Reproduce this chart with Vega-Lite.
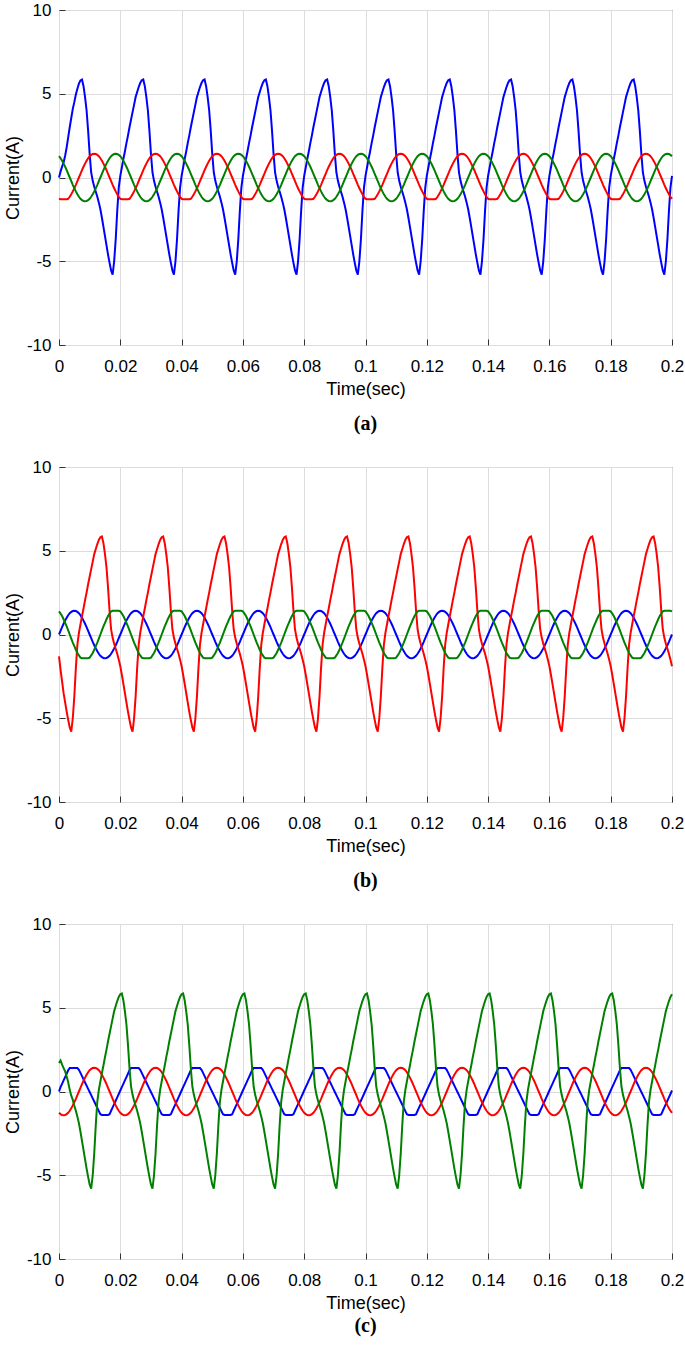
{
"$schema": "https://vega.github.io/schema/vega-lite/v6.json",
"padding": {"left": 3, "top": 0, "right": 12, "bottom": 5},
"spacing": 122,
"bounds": "flush",
"config": {
  "font": "Liberation Sans",
  "view": {"stroke": "#333333", "strokeWidth": 1},
  "axis": {"grid": true, "gridColor": "#dcdcdc", "gridWidth": 1, "domain": false, "tickColor": "#333333", "tickSize": -6, "labelPadding": 14, "labelFont": "Liberation Sans", "labelFontSize": 17, "labelColor": "#000000", "labelFlush": false, "labelOverlap": false, "titleFont": "Liberation Sans", "titleFontSize": 18, "titleFontWeight": "normal", "titleColor": "#000000"},
  "axisX": {"labelPadding": 19, "titlePadding": 6}
},
"data": {"values": [
{"t":0,"ab":0,"ar":-1.27,"ag":1.27,"bb":0,"br":-1.3,"bg":1.38,"cb":0,"cr":-1.27,"cg":1.7},
{"t":0.0005,"ab":0.35,"ar":-1.3,"ag":1.15,"bb":0.22,"br":-2.1,"bg":1.25,"cb":0.26,"cr":-1.35,"cg":1.85},
{"t":0.001,"ab":0.65,"ar":-1.3,"ag":1,"bb":0.44,"br":-2.8,"bg":1.1,"cb":0.46,"cr":-1.4,"cg":1.6},
{"t":0.0015,"ab":0.9,"ar":-1.3,"ag":0.83,"bb":0.64,"br":-3.5,"bg":0.91,"cb":0.66,"cr":-1.42,"cg":1.4},
{"t":0.002,"ab":1.3,"ar":-1.3,"ag":0.64,"bb":0.83,"br":-4.05,"bg":0.7,"cb":0.86,"cr":-1.4,"cg":1.2},
{"t":0.0025,"ab":1.8,"ar":-1.3,"ag":0.44,"bb":1,"br":-4.6,"bg":0.48,"cb":1.06,"cr":-1.35,"cg":0.9},
{"t":0.003,"ab":2.4,"ar":-1.27,"ag":0.22,"bb":1.15,"br":-5.1,"bg":0.24,"cb":1.27,"cr":-1.27,"cg":0.55},
{"t":0.0035,"ab":3,"ar":-1.15,"ag":0,"bb":1.27,"br":-5.55,"bg":0,"cb":1.4,"cr":-1.15,"cg":0.1},
{"t":0.004,"ab":3.55,"ar":-1,"ag":-0.22,"bb":1.35,"br":-5.8,"bg":-0.24,"cb":1.4,"cr":-1,"cg":-0.25},
{"t":0.0045,"ab":4.1,"ar":-0.83,"ag":-0.44,"bb":1.4,"br":-5,"bg":-0.48,"cb":1.4,"cr":-0.83,"cg":-0.5},
{"t":0.005,"ab":4.5,"ar":-0.64,"ag":-0.64,"bb":1.42,"br":-3.7,"bg":-0.7,"cb":1.4,"cr":-0.64,"cg":-0.85},
{"t":0.0055,"ab":4.95,"ar":-0.44,"ag":-0.83,"bb":1.4,"br":-2,"bg":-0.91,"cb":1.4,"cr":-0.44,"cg":-1.15},
{"t":0.006,"ab":5.3,"ar":-0.22,"ag":-1,"bb":1.35,"br":-0.6,"bg":-1.1,"cb":1.4,"cr":-0.22,"cg":-1.5},
{"t":0.0065,"ab":5.6,"ar":0,"ag":-1.15,"bb":1.27,"br":0.1,"bg":-1.25,"cb":1.29,"cr":0,"cg":-1.9},
{"t":0.007,"ab":5.8,"ar":0.22,"ag":-1.27,"bb":1.15,"br":0.6,"bg":-1.38,"cb":1.11,"cr":0.22,"cg":-2.4},
{"t":0.0075,"ab":5.85,"ar":0.44,"ag":-1.35,"bb":1,"br":1.1,"bg":-1.42,"cb":0.92,"cr":0.44,"cg":-2.95},
{"t":0.008,"ab":5.45,"ar":0.64,"ag":-1.4,"bb":0.83,"br":1.55,"bg":-1.42,"cb":0.73,"cr":0.64,"cg":-3.5},
{"t":0.0085,"ab":4.8,"ar":0.83,"ag":-1.42,"bb":0.64,"br":2.05,"bg":-1.42,"cb":0.54,"cr":0.83,"cg":-4.05},
{"t":0.009,"ab":4,"ar":1,"ag":-1.4,"bb":0.44,"br":2.5,"bg":-1.42,"cb":0.35,"cr":1,"cg":-4.6},
{"t":0.0095,"ab":2.8,"ar":1.15,"ag":-1.35,"bb":0.22,"br":3,"bg":-1.42,"cb":0.16,"cr":1.15,"cg":-5.1},
{"t":0.01,"ab":1.4,"ar":1.27,"ag":-1.27,"bb":0,"br":3.45,"bg":-1.38,"cb":-0.03,"cr":1.27,"cg":-5.55},
{"t":0.0105,"ab":0.3,"ar":1.35,"ag":-1.15,"bb":-0.22,"br":3.9,"bg":-1.25,"cb":-0.22,"cr":1.35,"cg":-5.8},
{"t":0.011,"ab":-0.2,"ar":1.4,"ag":-1,"bb":-0.44,"br":4.35,"bg":-1.1,"cb":-0.41,"cr":1.4,"cg":-5},
{"t":0.0115,"ab":-0.55,"ar":1.42,"ag":-0.83,"bb":-0.64,"br":4.8,"bg":-0.91,"cb":-0.6,"cr":1.42,"cg":-3.7},
{"t":0.012,"ab":-0.85,"ar":1.4,"ag":-0.64,"bb":-0.83,"br":5.1,"bg":-0.7,"cb":-0.79,"cr":1.4,"cg":-2},
{"t":0.0125,"ab":-1.15,"ar":1.35,"ag":-0.44,"bb":-1,"br":5.4,"bg":-0.48,"cb":-0.98,"cr":1.35,"cg":-0.6},
{"t":0.013,"ab":-1.5,"ar":1.27,"ag":-0.22,"bb":-1.15,"br":5.65,"bg":-0.24,"cb":-1.17,"cr":1.27,"cg":0.1},
{"t":0.0135,"ab":-1.9,"ar":1.15,"ag":0,"bb":-1.27,"br":5.8,"bg":0,"cb":-1.36,"cr":1.15,"cg":0.6},
{"t":0.014,"ab":-2.4,"ar":1,"ag":0.22,"bb":-1.35,"br":5.85,"bg":0.24,"cb":-1.4,"cr":1,"cg":1.1},
{"t":0.0145,"ab":-2.95,"ar":0.83,"ag":0.44,"bb":-1.4,"br":5.45,"bg":0.48,"cb":-1.4,"cr":0.83,"cg":1.55},
{"t":0.015,"ab":-3.5,"ar":0.64,"ag":0.64,"bb":-1.42,"br":4.8,"bg":0.7,"cb":-1.4,"cr":0.64,"cg":2.05},
{"t":0.0155,"ab":-4.05,"ar":0.44,"ag":0.83,"bb":-1.4,"br":4,"bg":0.91,"cb":-1.4,"cr":0.44,"cg":2.5},
{"t":0.016,"ab":-4.6,"ar":0.22,"ag":1,"bb":-1.35,"br":2.8,"bg":1.1,"cb":-1.4,"cr":0.22,"cg":3},
{"t":0.0165,"ab":-5.1,"ar":0,"ag":1.15,"bb":-1.27,"br":1.4,"bg":1.25,"cb":-1.36,"cr":0,"cg":3.45},
{"t":0.017,"ab":-5.55,"ar":-0.22,"ag":1.27,"bb":-1.15,"br":0.3,"bg":1.38,"cb":-1.15,"cr":-0.22,"cg":3.9},
{"t":0.0175,"ab":-5.8,"ar":-0.44,"ag":1.35,"bb":-1,"br":-0.2,"bg":1.42,"cb":-0.95,"cr":-0.44,"cg":4.35},
{"t":0.018,"ab":-5,"ar":-0.64,"ag":1.4,"bb":-0.83,"br":-0.55,"bg":1.42,"cb":-0.75,"cr":-0.64,"cg":4.8},
{"t":0.0185,"ab":-3.7,"ar":-0.83,"ag":1.42,"bb":-0.64,"br":-0.85,"bg":1.42,"cb":-0.55,"cr":-0.83,"cg":5.1},
{"t":0.019,"ab":-2,"ar":-1,"ag":1.4,"bb":-0.44,"br":-1.15,"bg":1.42,"cb":-0.35,"cr":-1,"cg":5.4},
{"t":0.0195,"ab":-0.6,"ar":-1.15,"ag":1.35,"bb":-0.22,"br":-1.5,"bg":1.42,"cb":-0.15,"cr":-1.15,"cg":5.65},
{"t":0.02,"ab":0.1,"ar":-1.27,"ag":1.27,"bb":0,"br":-1.9,"bg":1.38,"cb":0.06,"cr":-1.27,"cg":5.8},
{"t":0.0205,"ab":0.6,"ar":-1.3,"ag":1.15,"bb":0.22,"br":-2.4,"bg":1.25,"cb":0.26,"cr":-1.35,"cg":5.85},
{"t":0.021,"ab":1.1,"ar":-1.3,"ag":1,"bb":0.44,"br":-2.95,"bg":1.1,"cb":0.46,"cr":-1.4,"cg":5.45},
{"t":0.0215,"ab":1.55,"ar":-1.3,"ag":0.83,"bb":0.64,"br":-3.5,"bg":0.91,"cb":0.66,"cr":-1.42,"cg":4.8},
{"t":0.022,"ab":2.05,"ar":-1.3,"ag":0.64,"bb":0.83,"br":-4.05,"bg":0.7,"cb":0.86,"cr":-1.4,"cg":4},
{"t":0.0225,"ab":2.5,"ar":-1.3,"ag":0.44,"bb":1,"br":-4.6,"bg":0.48,"cb":1.06,"cr":-1.35,"cg":2.8},
{"t":0.023,"ab":3,"ar":-1.27,"ag":0.22,"bb":1.15,"br":-5.1,"bg":0.24,"cb":1.27,"cr":-1.27,"cg":1.4},
{"t":0.0235,"ab":3.45,"ar":-1.15,"ag":0,"bb":1.27,"br":-5.55,"bg":0,"cb":1.4,"cr":-1.15,"cg":0.3},
{"t":0.024,"ab":3.9,"ar":-1,"ag":-0.22,"bb":1.35,"br":-5.8,"bg":-0.24,"cb":1.4,"cr":-1,"cg":-0.2},
{"t":0.0245,"ab":4.35,"ar":-0.83,"ag":-0.44,"bb":1.4,"br":-5,"bg":-0.48,"cb":1.4,"cr":-0.83,"cg":-0.55},
{"t":0.025,"ab":4.8,"ar":-0.64,"ag":-0.64,"bb":1.42,"br":-3.7,"bg":-0.7,"cb":1.4,"cr":-0.64,"cg":-0.85},
{"t":0.0255,"ab":5.1,"ar":-0.44,"ag":-0.83,"bb":1.4,"br":-2,"bg":-0.91,"cb":1.4,"cr":-0.44,"cg":-1.15},
{"t":0.026,"ab":5.4,"ar":-0.22,"ag":-1,"bb":1.35,"br":-0.6,"bg":-1.1,"cb":1.4,"cr":-0.22,"cg":-1.5},
{"t":0.0265,"ab":5.65,"ar":0,"ag":-1.15,"bb":1.27,"br":0.1,"bg":-1.25,"cb":1.29,"cr":0,"cg":-1.9},
{"t":0.027,"ab":5.8,"ar":0.22,"ag":-1.27,"bb":1.15,"br":0.6,"bg":-1.38,"cb":1.11,"cr":0.22,"cg":-2.4},
{"t":0.0275,"ab":5.85,"ar":0.44,"ag":-1.35,"bb":1,"br":1.1,"bg":-1.42,"cb":0.92,"cr":0.44,"cg":-2.95},
{"t":0.028,"ab":5.45,"ar":0.64,"ag":-1.4,"bb":0.83,"br":1.55,"bg":-1.42,"cb":0.73,"cr":0.64,"cg":-3.5},
{"t":0.0285,"ab":4.8,"ar":0.83,"ag":-1.42,"bb":0.64,"br":2.05,"bg":-1.42,"cb":0.54,"cr":0.83,"cg":-4.05},
{"t":0.029,"ab":4,"ar":1,"ag":-1.4,"bb":0.44,"br":2.5,"bg":-1.42,"cb":0.35,"cr":1,"cg":-4.6},
{"t":0.0295,"ab":2.8,"ar":1.15,"ag":-1.35,"bb":0.22,"br":3,"bg":-1.42,"cb":0.16,"cr":1.15,"cg":-5.1},
{"t":0.03,"ab":1.4,"ar":1.27,"ag":-1.27,"bb":0,"br":3.45,"bg":-1.38,"cb":-0.03,"cr":1.27,"cg":-5.55},
{"t":0.0305,"ab":0.3,"ar":1.35,"ag":-1.15,"bb":-0.22,"br":3.9,"bg":-1.25,"cb":-0.22,"cr":1.35,"cg":-5.8},
{"t":0.031,"ab":-0.2,"ar":1.4,"ag":-1,"bb":-0.44,"br":4.35,"bg":-1.1,"cb":-0.41,"cr":1.4,"cg":-5},
{"t":0.0315,"ab":-0.55,"ar":1.42,"ag":-0.83,"bb":-0.64,"br":4.8,"bg":-0.91,"cb":-0.6,"cr":1.42,"cg":-3.7},
{"t":0.032,"ab":-0.85,"ar":1.4,"ag":-0.64,"bb":-0.83,"br":5.1,"bg":-0.7,"cb":-0.79,"cr":1.4,"cg":-2},
{"t":0.0325,"ab":-1.15,"ar":1.35,"ag":-0.44,"bb":-1,"br":5.4,"bg":-0.48,"cb":-0.98,"cr":1.35,"cg":-0.6},
{"t":0.033,"ab":-1.5,"ar":1.27,"ag":-0.22,"bb":-1.15,"br":5.65,"bg":-0.24,"cb":-1.17,"cr":1.27,"cg":0.1},
{"t":0.0335,"ab":-1.9,"ar":1.15,"ag":0,"bb":-1.27,"br":5.8,"bg":0,"cb":-1.36,"cr":1.15,"cg":0.6},
{"t":0.034,"ab":-2.4,"ar":1,"ag":0.22,"bb":-1.35,"br":5.85,"bg":0.24,"cb":-1.4,"cr":1,"cg":1.1},
{"t":0.0345,"ab":-2.95,"ar":0.83,"ag":0.44,"bb":-1.4,"br":5.45,"bg":0.48,"cb":-1.4,"cr":0.83,"cg":1.55},
{"t":0.035,"ab":-3.5,"ar":0.64,"ag":0.64,"bb":-1.42,"br":4.8,"bg":0.7,"cb":-1.4,"cr":0.64,"cg":2.05},
{"t":0.0355,"ab":-4.05,"ar":0.44,"ag":0.83,"bb":-1.4,"br":4,"bg":0.91,"cb":-1.4,"cr":0.44,"cg":2.5},
{"t":0.036,"ab":-4.6,"ar":0.22,"ag":1,"bb":-1.35,"br":2.8,"bg":1.1,"cb":-1.4,"cr":0.22,"cg":3},
{"t":0.0365,"ab":-5.1,"ar":0,"ag":1.15,"bb":-1.27,"br":1.4,"bg":1.25,"cb":-1.36,"cr":0,"cg":3.45},
{"t":0.037,"ab":-5.55,"ar":-0.22,"ag":1.27,"bb":-1.15,"br":0.3,"bg":1.38,"cb":-1.15,"cr":-0.22,"cg":3.9},
{"t":0.0375,"ab":-5.8,"ar":-0.44,"ag":1.35,"bb":-1,"br":-0.2,"bg":1.42,"cb":-0.95,"cr":-0.44,"cg":4.35},
{"t":0.038,"ab":-5,"ar":-0.64,"ag":1.4,"bb":-0.83,"br":-0.55,"bg":1.42,"cb":-0.75,"cr":-0.64,"cg":4.8},
{"t":0.0385,"ab":-3.7,"ar":-0.83,"ag":1.42,"bb":-0.64,"br":-0.85,"bg":1.42,"cb":-0.55,"cr":-0.83,"cg":5.1},
{"t":0.039,"ab":-2,"ar":-1,"ag":1.4,"bb":-0.44,"br":-1.15,"bg":1.42,"cb":-0.35,"cr":-1,"cg":5.4},
{"t":0.0395,"ab":-0.6,"ar":-1.15,"ag":1.35,"bb":-0.22,"br":-1.5,"bg":1.42,"cb":-0.15,"cr":-1.15,"cg":5.65},
{"t":0.04,"ab":0.1,"ar":-1.27,"ag":1.27,"bb":0,"br":-1.9,"bg":1.38,"cb":0.06,"cr":-1.27,"cg":5.8},
{"t":0.0405,"ab":0.6,"ar":-1.3,"ag":1.15,"bb":0.22,"br":-2.4,"bg":1.25,"cb":0.26,"cr":-1.35,"cg":5.85},
{"t":0.041,"ab":1.1,"ar":-1.3,"ag":1,"bb":0.44,"br":-2.95,"bg":1.1,"cb":0.46,"cr":-1.4,"cg":5.45},
{"t":0.0415,"ab":1.55,"ar":-1.3,"ag":0.83,"bb":0.64,"br":-3.5,"bg":0.91,"cb":0.66,"cr":-1.42,"cg":4.8},
{"t":0.042,"ab":2.05,"ar":-1.3,"ag":0.64,"bb":0.83,"br":-4.05,"bg":0.7,"cb":0.86,"cr":-1.4,"cg":4},
{"t":0.0425,"ab":2.5,"ar":-1.3,"ag":0.44,"bb":1,"br":-4.6,"bg":0.48,"cb":1.06,"cr":-1.35,"cg":2.8},
{"t":0.043,"ab":3,"ar":-1.27,"ag":0.22,"bb":1.15,"br":-5.1,"bg":0.24,"cb":1.27,"cr":-1.27,"cg":1.4},
{"t":0.0435,"ab":3.45,"ar":-1.15,"ag":0,"bb":1.27,"br":-5.55,"bg":0,"cb":1.4,"cr":-1.15,"cg":0.3},
{"t":0.044,"ab":3.9,"ar":-1,"ag":-0.22,"bb":1.35,"br":-5.8,"bg":-0.24,"cb":1.4,"cr":-1,"cg":-0.2},
{"t":0.0445,"ab":4.35,"ar":-0.83,"ag":-0.44,"bb":1.4,"br":-5,"bg":-0.48,"cb":1.4,"cr":-0.83,"cg":-0.55},
{"t":0.045,"ab":4.8,"ar":-0.64,"ag":-0.64,"bb":1.42,"br":-3.7,"bg":-0.7,"cb":1.4,"cr":-0.64,"cg":-0.85},
{"t":0.0455,"ab":5.1,"ar":-0.44,"ag":-0.83,"bb":1.4,"br":-2,"bg":-0.91,"cb":1.4,"cr":-0.44,"cg":-1.15},
{"t":0.046,"ab":5.4,"ar":-0.22,"ag":-1,"bb":1.35,"br":-0.6,"bg":-1.1,"cb":1.4,"cr":-0.22,"cg":-1.5},
{"t":0.0465,"ab":5.65,"ar":0,"ag":-1.15,"bb":1.27,"br":0.1,"bg":-1.25,"cb":1.29,"cr":0,"cg":-1.9},
{"t":0.047,"ab":5.8,"ar":0.22,"ag":-1.27,"bb":1.15,"br":0.6,"bg":-1.38,"cb":1.11,"cr":0.22,"cg":-2.4},
{"t":0.0475,"ab":5.85,"ar":0.44,"ag":-1.35,"bb":1,"br":1.1,"bg":-1.42,"cb":0.92,"cr":0.44,"cg":-2.95},
{"t":0.048,"ab":5.45,"ar":0.64,"ag":-1.4,"bb":0.83,"br":1.55,"bg":-1.42,"cb":0.73,"cr":0.64,"cg":-3.5},
{"t":0.0485,"ab":4.8,"ar":0.83,"ag":-1.42,"bb":0.64,"br":2.05,"bg":-1.42,"cb":0.54,"cr":0.83,"cg":-4.05},
{"t":0.049,"ab":4,"ar":1,"ag":-1.4,"bb":0.44,"br":2.5,"bg":-1.42,"cb":0.35,"cr":1,"cg":-4.6},
{"t":0.0495,"ab":2.8,"ar":1.15,"ag":-1.35,"bb":0.22,"br":3,"bg":-1.42,"cb":0.16,"cr":1.15,"cg":-5.1},
{"t":0.05,"ab":1.4,"ar":1.27,"ag":-1.27,"bb":0,"br":3.45,"bg":-1.38,"cb":-0.03,"cr":1.27,"cg":-5.55},
{"t":0.0505,"ab":0.3,"ar":1.35,"ag":-1.15,"bb":-0.22,"br":3.9,"bg":-1.25,"cb":-0.22,"cr":1.35,"cg":-5.8},
{"t":0.051,"ab":-0.2,"ar":1.4,"ag":-1,"bb":-0.44,"br":4.35,"bg":-1.1,"cb":-0.41,"cr":1.4,"cg":-5},
{"t":0.0515,"ab":-0.55,"ar":1.42,"ag":-0.83,"bb":-0.64,"br":4.8,"bg":-0.91,"cb":-0.6,"cr":1.42,"cg":-3.7},
{"t":0.052,"ab":-0.85,"ar":1.4,"ag":-0.64,"bb":-0.83,"br":5.1,"bg":-0.7,"cb":-0.79,"cr":1.4,"cg":-2},
{"t":0.0525,"ab":-1.15,"ar":1.35,"ag":-0.44,"bb":-1,"br":5.4,"bg":-0.48,"cb":-0.98,"cr":1.35,"cg":-0.6},
{"t":0.053,"ab":-1.5,"ar":1.27,"ag":-0.22,"bb":-1.15,"br":5.65,"bg":-0.24,"cb":-1.17,"cr":1.27,"cg":0.1},
{"t":0.0535,"ab":-1.9,"ar":1.15,"ag":0,"bb":-1.27,"br":5.8,"bg":0,"cb":-1.36,"cr":1.15,"cg":0.6},
{"t":0.054,"ab":-2.4,"ar":1,"ag":0.22,"bb":-1.35,"br":5.85,"bg":0.24,"cb":-1.4,"cr":1,"cg":1.1},
{"t":0.0545,"ab":-2.95,"ar":0.83,"ag":0.44,"bb":-1.4,"br":5.45,"bg":0.48,"cb":-1.4,"cr":0.83,"cg":1.55},
{"t":0.055,"ab":-3.5,"ar":0.64,"ag":0.64,"bb":-1.42,"br":4.8,"bg":0.7,"cb":-1.4,"cr":0.64,"cg":2.05},
{"t":0.0555,"ab":-4.05,"ar":0.44,"ag":0.83,"bb":-1.4,"br":4,"bg":0.91,"cb":-1.4,"cr":0.44,"cg":2.5},
{"t":0.056,"ab":-4.6,"ar":0.22,"ag":1,"bb":-1.35,"br":2.8,"bg":1.1,"cb":-1.4,"cr":0.22,"cg":3},
{"t":0.0565,"ab":-5.1,"ar":0,"ag":1.15,"bb":-1.27,"br":1.4,"bg":1.25,"cb":-1.36,"cr":0,"cg":3.45},
{"t":0.057,"ab":-5.55,"ar":-0.22,"ag":1.27,"bb":-1.15,"br":0.3,"bg":1.38,"cb":-1.15,"cr":-0.22,"cg":3.9},
{"t":0.0575,"ab":-5.8,"ar":-0.44,"ag":1.35,"bb":-1,"br":-0.2,"bg":1.42,"cb":-0.95,"cr":-0.44,"cg":4.35},
{"t":0.058,"ab":-5,"ar":-0.64,"ag":1.4,"bb":-0.83,"br":-0.55,"bg":1.42,"cb":-0.75,"cr":-0.64,"cg":4.8},
{"t":0.0585,"ab":-3.7,"ar":-0.83,"ag":1.42,"bb":-0.64,"br":-0.85,"bg":1.42,"cb":-0.55,"cr":-0.83,"cg":5.1},
{"t":0.059,"ab":-2,"ar":-1,"ag":1.4,"bb":-0.44,"br":-1.15,"bg":1.42,"cb":-0.35,"cr":-1,"cg":5.4},
{"t":0.0595,"ab":-0.6,"ar":-1.15,"ag":1.35,"bb":-0.22,"br":-1.5,"bg":1.42,"cb":-0.15,"cr":-1.15,"cg":5.65},
{"t":0.06,"ab":0.1,"ar":-1.27,"ag":1.27,"bb":0,"br":-1.9,"bg":1.38,"cb":0.06,"cr":-1.27,"cg":5.8},
{"t":0.0605,"ab":0.6,"ar":-1.3,"ag":1.15,"bb":0.22,"br":-2.4,"bg":1.25,"cb":0.26,"cr":-1.35,"cg":5.85},
{"t":0.061,"ab":1.1,"ar":-1.3,"ag":1,"bb":0.44,"br":-2.95,"bg":1.1,"cb":0.46,"cr":-1.4,"cg":5.45},
{"t":0.0615,"ab":1.55,"ar":-1.3,"ag":0.83,"bb":0.64,"br":-3.5,"bg":0.91,"cb":0.66,"cr":-1.42,"cg":4.8},
{"t":0.062,"ab":2.05,"ar":-1.3,"ag":0.64,"bb":0.83,"br":-4.05,"bg":0.7,"cb":0.86,"cr":-1.4,"cg":4},
{"t":0.0625,"ab":2.5,"ar":-1.3,"ag":0.44,"bb":1,"br":-4.6,"bg":0.48,"cb":1.06,"cr":-1.35,"cg":2.8},
{"t":0.063,"ab":3,"ar":-1.27,"ag":0.22,"bb":1.15,"br":-5.1,"bg":0.24,"cb":1.27,"cr":-1.27,"cg":1.4},
{"t":0.0635,"ab":3.45,"ar":-1.15,"ag":0,"bb":1.27,"br":-5.55,"bg":0,"cb":1.4,"cr":-1.15,"cg":0.3},
{"t":0.064,"ab":3.9,"ar":-1,"ag":-0.22,"bb":1.35,"br":-5.8,"bg":-0.24,"cb":1.4,"cr":-1,"cg":-0.2},
{"t":0.0645,"ab":4.35,"ar":-0.83,"ag":-0.44,"bb":1.4,"br":-5,"bg":-0.48,"cb":1.4,"cr":-0.83,"cg":-0.55},
{"t":0.065,"ab":4.8,"ar":-0.64,"ag":-0.64,"bb":1.42,"br":-3.7,"bg":-0.7,"cb":1.4,"cr":-0.64,"cg":-0.85},
{"t":0.0655,"ab":5.1,"ar":-0.44,"ag":-0.83,"bb":1.4,"br":-2,"bg":-0.91,"cb":1.4,"cr":-0.44,"cg":-1.15},
{"t":0.066,"ab":5.4,"ar":-0.22,"ag":-1,"bb":1.35,"br":-0.6,"bg":-1.1,"cb":1.4,"cr":-0.22,"cg":-1.5},
{"t":0.0665,"ab":5.65,"ar":0,"ag":-1.15,"bb":1.27,"br":0.1,"bg":-1.25,"cb":1.29,"cr":0,"cg":-1.9},
{"t":0.067,"ab":5.8,"ar":0.22,"ag":-1.27,"bb":1.15,"br":0.6,"bg":-1.38,"cb":1.11,"cr":0.22,"cg":-2.4},
{"t":0.0675,"ab":5.85,"ar":0.44,"ag":-1.35,"bb":1,"br":1.1,"bg":-1.42,"cb":0.92,"cr":0.44,"cg":-2.95},
{"t":0.068,"ab":5.45,"ar":0.64,"ag":-1.4,"bb":0.83,"br":1.55,"bg":-1.42,"cb":0.73,"cr":0.64,"cg":-3.5},
{"t":0.0685,"ab":4.8,"ar":0.83,"ag":-1.42,"bb":0.64,"br":2.05,"bg":-1.42,"cb":0.54,"cr":0.83,"cg":-4.05},
{"t":0.069,"ab":4,"ar":1,"ag":-1.4,"bb":0.44,"br":2.5,"bg":-1.42,"cb":0.35,"cr":1,"cg":-4.6},
{"t":0.0695,"ab":2.8,"ar":1.15,"ag":-1.35,"bb":0.22,"br":3,"bg":-1.42,"cb":0.16,"cr":1.15,"cg":-5.1},
{"t":0.07,"ab":1.4,"ar":1.27,"ag":-1.27,"bb":0,"br":3.45,"bg":-1.38,"cb":-0.03,"cr":1.27,"cg":-5.55},
{"t":0.0705,"ab":0.3,"ar":1.35,"ag":-1.15,"bb":-0.22,"br":3.9,"bg":-1.25,"cb":-0.22,"cr":1.35,"cg":-5.8},
{"t":0.071,"ab":-0.2,"ar":1.4,"ag":-1,"bb":-0.44,"br":4.35,"bg":-1.1,"cb":-0.41,"cr":1.4,"cg":-5},
{"t":0.0715,"ab":-0.55,"ar":1.42,"ag":-0.83,"bb":-0.64,"br":4.8,"bg":-0.91,"cb":-0.6,"cr":1.42,"cg":-3.7},
{"t":0.072,"ab":-0.85,"ar":1.4,"ag":-0.64,"bb":-0.83,"br":5.1,"bg":-0.7,"cb":-0.79,"cr":1.4,"cg":-2},
{"t":0.0725,"ab":-1.15,"ar":1.35,"ag":-0.44,"bb":-1,"br":5.4,"bg":-0.48,"cb":-0.98,"cr":1.35,"cg":-0.6},
{"t":0.073,"ab":-1.5,"ar":1.27,"ag":-0.22,"bb":-1.15,"br":5.65,"bg":-0.24,"cb":-1.17,"cr":1.27,"cg":0.1},
{"t":0.0735,"ab":-1.9,"ar":1.15,"ag":0,"bb":-1.27,"br":5.8,"bg":0,"cb":-1.36,"cr":1.15,"cg":0.6},
{"t":0.074,"ab":-2.4,"ar":1,"ag":0.22,"bb":-1.35,"br":5.85,"bg":0.24,"cb":-1.4,"cr":1,"cg":1.1},
{"t":0.0745,"ab":-2.95,"ar":0.83,"ag":0.44,"bb":-1.4,"br":5.45,"bg":0.48,"cb":-1.4,"cr":0.83,"cg":1.55},
{"t":0.075,"ab":-3.5,"ar":0.64,"ag":0.64,"bb":-1.42,"br":4.8,"bg":0.7,"cb":-1.4,"cr":0.64,"cg":2.05},
{"t":0.0755,"ab":-4.05,"ar":0.44,"ag":0.83,"bb":-1.4,"br":4,"bg":0.91,"cb":-1.4,"cr":0.44,"cg":2.5},
{"t":0.076,"ab":-4.6,"ar":0.22,"ag":1,"bb":-1.35,"br":2.8,"bg":1.1,"cb":-1.4,"cr":0.22,"cg":3},
{"t":0.0765,"ab":-5.1,"ar":0,"ag":1.15,"bb":-1.27,"br":1.4,"bg":1.25,"cb":-1.36,"cr":0,"cg":3.45},
{"t":0.077,"ab":-5.55,"ar":-0.22,"ag":1.27,"bb":-1.15,"br":0.3,"bg":1.38,"cb":-1.15,"cr":-0.22,"cg":3.9},
{"t":0.0775,"ab":-5.8,"ar":-0.44,"ag":1.35,"bb":-1,"br":-0.2,"bg":1.42,"cb":-0.95,"cr":-0.44,"cg":4.35},
{"t":0.078,"ab":-5,"ar":-0.64,"ag":1.4,"bb":-0.83,"br":-0.55,"bg":1.42,"cb":-0.75,"cr":-0.64,"cg":4.8},
{"t":0.0785,"ab":-3.7,"ar":-0.83,"ag":1.42,"bb":-0.64,"br":-0.85,"bg":1.42,"cb":-0.55,"cr":-0.83,"cg":5.1},
{"t":0.079,"ab":-2,"ar":-1,"ag":1.4,"bb":-0.44,"br":-1.15,"bg":1.42,"cb":-0.35,"cr":-1,"cg":5.4},
{"t":0.0795,"ab":-0.6,"ar":-1.15,"ag":1.35,"bb":-0.22,"br":-1.5,"bg":1.42,"cb":-0.15,"cr":-1.15,"cg":5.65},
{"t":0.08,"ab":0.1,"ar":-1.27,"ag":1.27,"bb":0,"br":-1.9,"bg":1.38,"cb":0.06,"cr":-1.27,"cg":5.8},
{"t":0.0805,"ab":0.6,"ar":-1.3,"ag":1.15,"bb":0.22,"br":-2.4,"bg":1.25,"cb":0.26,"cr":-1.35,"cg":5.85},
{"t":0.081,"ab":1.1,"ar":-1.3,"ag":1,"bb":0.44,"br":-2.95,"bg":1.1,"cb":0.46,"cr":-1.4,"cg":5.45},
{"t":0.0815,"ab":1.55,"ar":-1.3,"ag":0.83,"bb":0.64,"br":-3.5,"bg":0.91,"cb":0.66,"cr":-1.42,"cg":4.8},
{"t":0.082,"ab":2.05,"ar":-1.3,"ag":0.64,"bb":0.83,"br":-4.05,"bg":0.7,"cb":0.86,"cr":-1.4,"cg":4},
{"t":0.0825,"ab":2.5,"ar":-1.3,"ag":0.44,"bb":1,"br":-4.6,"bg":0.48,"cb":1.06,"cr":-1.35,"cg":2.8},
{"t":0.083,"ab":3,"ar":-1.27,"ag":0.22,"bb":1.15,"br":-5.1,"bg":0.24,"cb":1.27,"cr":-1.27,"cg":1.4},
{"t":0.0835,"ab":3.45,"ar":-1.15,"ag":0,"bb":1.27,"br":-5.55,"bg":0,"cb":1.4,"cr":-1.15,"cg":0.3},
{"t":0.084,"ab":3.9,"ar":-1,"ag":-0.22,"bb":1.35,"br":-5.8,"bg":-0.24,"cb":1.4,"cr":-1,"cg":-0.2},
{"t":0.0845,"ab":4.35,"ar":-0.83,"ag":-0.44,"bb":1.4,"br":-5,"bg":-0.48,"cb":1.4,"cr":-0.83,"cg":-0.55},
{"t":0.085,"ab":4.8,"ar":-0.64,"ag":-0.64,"bb":1.42,"br":-3.7,"bg":-0.7,"cb":1.4,"cr":-0.64,"cg":-0.85},
{"t":0.0855,"ab":5.1,"ar":-0.44,"ag":-0.83,"bb":1.4,"br":-2,"bg":-0.91,"cb":1.4,"cr":-0.44,"cg":-1.15},
{"t":0.086,"ab":5.4,"ar":-0.22,"ag":-1,"bb":1.35,"br":-0.6,"bg":-1.1,"cb":1.4,"cr":-0.22,"cg":-1.5},
{"t":0.0865,"ab":5.65,"ar":0,"ag":-1.15,"bb":1.27,"br":0.1,"bg":-1.25,"cb":1.29,"cr":0,"cg":-1.9},
{"t":0.087,"ab":5.8,"ar":0.22,"ag":-1.27,"bb":1.15,"br":0.6,"bg":-1.38,"cb":1.11,"cr":0.22,"cg":-2.4},
{"t":0.0875,"ab":5.85,"ar":0.44,"ag":-1.35,"bb":1,"br":1.1,"bg":-1.42,"cb":0.92,"cr":0.44,"cg":-2.95},
{"t":0.088,"ab":5.45,"ar":0.64,"ag":-1.4,"bb":0.83,"br":1.55,"bg":-1.42,"cb":0.73,"cr":0.64,"cg":-3.5},
{"t":0.0885,"ab":4.8,"ar":0.83,"ag":-1.42,"bb":0.64,"br":2.05,"bg":-1.42,"cb":0.54,"cr":0.83,"cg":-4.05},
{"t":0.089,"ab":4,"ar":1,"ag":-1.4,"bb":0.44,"br":2.5,"bg":-1.42,"cb":0.35,"cr":1,"cg":-4.6},
{"t":0.0895,"ab":2.8,"ar":1.15,"ag":-1.35,"bb":0.22,"br":3,"bg":-1.42,"cb":0.16,"cr":1.15,"cg":-5.1},
{"t":0.09,"ab":1.4,"ar":1.27,"ag":-1.27,"bb":0,"br":3.45,"bg":-1.38,"cb":-0.03,"cr":1.27,"cg":-5.55},
{"t":0.0905,"ab":0.3,"ar":1.35,"ag":-1.15,"bb":-0.22,"br":3.9,"bg":-1.25,"cb":-0.22,"cr":1.35,"cg":-5.8},
{"t":0.091,"ab":-0.2,"ar":1.4,"ag":-1,"bb":-0.44,"br":4.35,"bg":-1.1,"cb":-0.41,"cr":1.4,"cg":-5},
{"t":0.0915,"ab":-0.55,"ar":1.42,"ag":-0.83,"bb":-0.64,"br":4.8,"bg":-0.91,"cb":-0.6,"cr":1.42,"cg":-3.7},
{"t":0.092,"ab":-0.85,"ar":1.4,"ag":-0.64,"bb":-0.83,"br":5.1,"bg":-0.7,"cb":-0.79,"cr":1.4,"cg":-2},
{"t":0.0925,"ab":-1.15,"ar":1.35,"ag":-0.44,"bb":-1,"br":5.4,"bg":-0.48,"cb":-0.98,"cr":1.35,"cg":-0.6},
{"t":0.093,"ab":-1.5,"ar":1.27,"ag":-0.22,"bb":-1.15,"br":5.65,"bg":-0.24,"cb":-1.17,"cr":1.27,"cg":0.1},
{"t":0.0935,"ab":-1.9,"ar":1.15,"ag":0,"bb":-1.27,"br":5.8,"bg":0,"cb":-1.36,"cr":1.15,"cg":0.6},
{"t":0.094,"ab":-2.4,"ar":1,"ag":0.22,"bb":-1.35,"br":5.85,"bg":0.24,"cb":-1.4,"cr":1,"cg":1.1},
{"t":0.0945,"ab":-2.95,"ar":0.83,"ag":0.44,"bb":-1.4,"br":5.45,"bg":0.48,"cb":-1.4,"cr":0.83,"cg":1.55},
{"t":0.095,"ab":-3.5,"ar":0.64,"ag":0.64,"bb":-1.42,"br":4.8,"bg":0.7,"cb":-1.4,"cr":0.64,"cg":2.05},
{"t":0.0955,"ab":-4.05,"ar":0.44,"ag":0.83,"bb":-1.4,"br":4,"bg":0.91,"cb":-1.4,"cr":0.44,"cg":2.5},
{"t":0.096,"ab":-4.6,"ar":0.22,"ag":1,"bb":-1.35,"br":2.8,"bg":1.1,"cb":-1.4,"cr":0.22,"cg":3},
{"t":0.0965,"ab":-5.1,"ar":0,"ag":1.15,"bb":-1.27,"br":1.4,"bg":1.25,"cb":-1.36,"cr":0,"cg":3.45},
{"t":0.097,"ab":-5.55,"ar":-0.22,"ag":1.27,"bb":-1.15,"br":0.3,"bg":1.38,"cb":-1.15,"cr":-0.22,"cg":3.9},
{"t":0.0975,"ab":-5.8,"ar":-0.44,"ag":1.35,"bb":-1,"br":-0.2,"bg":1.42,"cb":-0.95,"cr":-0.44,"cg":4.35},
{"t":0.098,"ab":-5,"ar":-0.64,"ag":1.4,"bb":-0.83,"br":-0.55,"bg":1.42,"cb":-0.75,"cr":-0.64,"cg":4.8},
{"t":0.0985,"ab":-3.7,"ar":-0.83,"ag":1.42,"bb":-0.64,"br":-0.85,"bg":1.42,"cb":-0.55,"cr":-0.83,"cg":5.1},
{"t":0.099,"ab":-2,"ar":-1,"ag":1.4,"bb":-0.44,"br":-1.15,"bg":1.42,"cb":-0.35,"cr":-1,"cg":5.4},
{"t":0.0995,"ab":-0.6,"ar":-1.15,"ag":1.35,"bb":-0.22,"br":-1.5,"bg":1.42,"cb":-0.15,"cr":-1.15,"cg":5.65},
{"t":0.1,"ab":0.1,"ar":-1.27,"ag":1.27,"bb":0,"br":-1.9,"bg":1.38,"cb":0.06,"cr":-1.27,"cg":5.8},
{"t":0.1005,"ab":0.6,"ar":-1.3,"ag":1.15,"bb":0.22,"br":-2.4,"bg":1.25,"cb":0.26,"cr":-1.35,"cg":5.85},
{"t":0.101,"ab":1.1,"ar":-1.3,"ag":1,"bb":0.44,"br":-2.95,"bg":1.1,"cb":0.46,"cr":-1.4,"cg":5.45},
{"t":0.1015,"ab":1.55,"ar":-1.3,"ag":0.83,"bb":0.64,"br":-3.5,"bg":0.91,"cb":0.66,"cr":-1.42,"cg":4.8},
{"t":0.102,"ab":2.05,"ar":-1.3,"ag":0.64,"bb":0.83,"br":-4.05,"bg":0.7,"cb":0.86,"cr":-1.4,"cg":4},
{"t":0.1025,"ab":2.5,"ar":-1.3,"ag":0.44,"bb":1,"br":-4.6,"bg":0.48,"cb":1.06,"cr":-1.35,"cg":2.8},
{"t":0.103,"ab":3,"ar":-1.27,"ag":0.22,"bb":1.15,"br":-5.1,"bg":0.24,"cb":1.27,"cr":-1.27,"cg":1.4},
{"t":0.1035,"ab":3.45,"ar":-1.15,"ag":0,"bb":1.27,"br":-5.55,"bg":0,"cb":1.4,"cr":-1.15,"cg":0.3},
{"t":0.104,"ab":3.9,"ar":-1,"ag":-0.22,"bb":1.35,"br":-5.8,"bg":-0.24,"cb":1.4,"cr":-1,"cg":-0.2},
{"t":0.1045,"ab":4.35,"ar":-0.83,"ag":-0.44,"bb":1.4,"br":-5,"bg":-0.48,"cb":1.4,"cr":-0.83,"cg":-0.55},
{"t":0.105,"ab":4.8,"ar":-0.64,"ag":-0.64,"bb":1.42,"br":-3.7,"bg":-0.7,"cb":1.4,"cr":-0.64,"cg":-0.85},
{"t":0.1055,"ab":5.1,"ar":-0.44,"ag":-0.83,"bb":1.4,"br":-2,"bg":-0.91,"cb":1.4,"cr":-0.44,"cg":-1.15},
{"t":0.106,"ab":5.4,"ar":-0.22,"ag":-1,"bb":1.35,"br":-0.6,"bg":-1.1,"cb":1.4,"cr":-0.22,"cg":-1.5},
{"t":0.1065,"ab":5.65,"ar":0,"ag":-1.15,"bb":1.27,"br":0.1,"bg":-1.25,"cb":1.29,"cr":0,"cg":-1.9},
{"t":0.107,"ab":5.8,"ar":0.22,"ag":-1.27,"bb":1.15,"br":0.6,"bg":-1.38,"cb":1.11,"cr":0.22,"cg":-2.4},
{"t":0.1075,"ab":5.85,"ar":0.44,"ag":-1.35,"bb":1,"br":1.1,"bg":-1.42,"cb":0.92,"cr":0.44,"cg":-2.95},
{"t":0.108,"ab":5.45,"ar":0.64,"ag":-1.4,"bb":0.83,"br":1.55,"bg":-1.42,"cb":0.73,"cr":0.64,"cg":-3.5},
{"t":0.1085,"ab":4.8,"ar":0.83,"ag":-1.42,"bb":0.64,"br":2.05,"bg":-1.42,"cb":0.54,"cr":0.83,"cg":-4.05},
{"t":0.109,"ab":4,"ar":1,"ag":-1.4,"bb":0.44,"br":2.5,"bg":-1.42,"cb":0.35,"cr":1,"cg":-4.6},
{"t":0.1095,"ab":2.8,"ar":1.15,"ag":-1.35,"bb":0.22,"br":3,"bg":-1.42,"cb":0.16,"cr":1.15,"cg":-5.1},
{"t":0.11,"ab":1.4,"ar":1.27,"ag":-1.27,"bb":0,"br":3.45,"bg":-1.38,"cb":-0.03,"cr":1.27,"cg":-5.55},
{"t":0.1105,"ab":0.3,"ar":1.35,"ag":-1.15,"bb":-0.22,"br":3.9,"bg":-1.25,"cb":-0.22,"cr":1.35,"cg":-5.8},
{"t":0.111,"ab":-0.2,"ar":1.4,"ag":-1,"bb":-0.44,"br":4.35,"bg":-1.1,"cb":-0.41,"cr":1.4,"cg":-5},
{"t":0.1115,"ab":-0.55,"ar":1.42,"ag":-0.83,"bb":-0.64,"br":4.8,"bg":-0.91,"cb":-0.6,"cr":1.42,"cg":-3.7},
{"t":0.112,"ab":-0.85,"ar":1.4,"ag":-0.64,"bb":-0.83,"br":5.1,"bg":-0.7,"cb":-0.79,"cr":1.4,"cg":-2},
{"t":0.1125,"ab":-1.15,"ar":1.35,"ag":-0.44,"bb":-1,"br":5.4,"bg":-0.48,"cb":-0.98,"cr":1.35,"cg":-0.6},
{"t":0.113,"ab":-1.5,"ar":1.27,"ag":-0.22,"bb":-1.15,"br":5.65,"bg":-0.24,"cb":-1.17,"cr":1.27,"cg":0.1},
{"t":0.1135,"ab":-1.9,"ar":1.15,"ag":0,"bb":-1.27,"br":5.8,"bg":0,"cb":-1.36,"cr":1.15,"cg":0.6},
{"t":0.114,"ab":-2.4,"ar":1,"ag":0.22,"bb":-1.35,"br":5.85,"bg":0.24,"cb":-1.4,"cr":1,"cg":1.1},
{"t":0.1145,"ab":-2.95,"ar":0.83,"ag":0.44,"bb":-1.4,"br":5.45,"bg":0.48,"cb":-1.4,"cr":0.83,"cg":1.55},
{"t":0.115,"ab":-3.5,"ar":0.64,"ag":0.64,"bb":-1.42,"br":4.8,"bg":0.7,"cb":-1.4,"cr":0.64,"cg":2.05},
{"t":0.1155,"ab":-4.05,"ar":0.44,"ag":0.83,"bb":-1.4,"br":4,"bg":0.91,"cb":-1.4,"cr":0.44,"cg":2.5},
{"t":0.116,"ab":-4.6,"ar":0.22,"ag":1,"bb":-1.35,"br":2.8,"bg":1.1,"cb":-1.4,"cr":0.22,"cg":3},
{"t":0.1165,"ab":-5.1,"ar":0,"ag":1.15,"bb":-1.27,"br":1.4,"bg":1.25,"cb":-1.36,"cr":0,"cg":3.45},
{"t":0.117,"ab":-5.55,"ar":-0.22,"ag":1.27,"bb":-1.15,"br":0.3,"bg":1.38,"cb":-1.15,"cr":-0.22,"cg":3.9},
{"t":0.1175,"ab":-5.8,"ar":-0.44,"ag":1.35,"bb":-1,"br":-0.2,"bg":1.42,"cb":-0.95,"cr":-0.44,"cg":4.35},
{"t":0.118,"ab":-5,"ar":-0.64,"ag":1.4,"bb":-0.83,"br":-0.55,"bg":1.42,"cb":-0.75,"cr":-0.64,"cg":4.8},
{"t":0.1185,"ab":-3.7,"ar":-0.83,"ag":1.42,"bb":-0.64,"br":-0.85,"bg":1.42,"cb":-0.55,"cr":-0.83,"cg":5.1},
{"t":0.119,"ab":-2,"ar":-1,"ag":1.4,"bb":-0.44,"br":-1.15,"bg":1.42,"cb":-0.35,"cr":-1,"cg":5.4},
{"t":0.1195,"ab":-0.6,"ar":-1.15,"ag":1.35,"bb":-0.22,"br":-1.5,"bg":1.42,"cb":-0.15,"cr":-1.15,"cg":5.65},
{"t":0.12,"ab":0.1,"ar":-1.27,"ag":1.27,"bb":0,"br":-1.9,"bg":1.38,"cb":0.06,"cr":-1.27,"cg":5.8},
{"t":0.1205,"ab":0.6,"ar":-1.3,"ag":1.15,"bb":0.22,"br":-2.4,"bg":1.25,"cb":0.26,"cr":-1.35,"cg":5.85},
{"t":0.121,"ab":1.1,"ar":-1.3,"ag":1,"bb":0.44,"br":-2.95,"bg":1.1,"cb":0.46,"cr":-1.4,"cg":5.45},
{"t":0.1215,"ab":1.55,"ar":-1.3,"ag":0.83,"bb":0.64,"br":-3.5,"bg":0.91,"cb":0.66,"cr":-1.42,"cg":4.8},
{"t":0.122,"ab":2.05,"ar":-1.3,"ag":0.64,"bb":0.83,"br":-4.05,"bg":0.7,"cb":0.86,"cr":-1.4,"cg":4},
{"t":0.1225,"ab":2.5,"ar":-1.3,"ag":0.44,"bb":1,"br":-4.6,"bg":0.48,"cb":1.06,"cr":-1.35,"cg":2.8},
{"t":0.123,"ab":3,"ar":-1.27,"ag":0.22,"bb":1.15,"br":-5.1,"bg":0.24,"cb":1.27,"cr":-1.27,"cg":1.4},
{"t":0.1235,"ab":3.45,"ar":-1.15,"ag":0,"bb":1.27,"br":-5.55,"bg":0,"cb":1.4,"cr":-1.15,"cg":0.3},
{"t":0.124,"ab":3.9,"ar":-1,"ag":-0.22,"bb":1.35,"br":-5.8,"bg":-0.24,"cb":1.4,"cr":-1,"cg":-0.2},
{"t":0.1245,"ab":4.35,"ar":-0.83,"ag":-0.44,"bb":1.4,"br":-5,"bg":-0.48,"cb":1.4,"cr":-0.83,"cg":-0.55},
{"t":0.125,"ab":4.8,"ar":-0.64,"ag":-0.64,"bb":1.42,"br":-3.7,"bg":-0.7,"cb":1.4,"cr":-0.64,"cg":-0.85},
{"t":0.1255,"ab":5.1,"ar":-0.44,"ag":-0.83,"bb":1.4,"br":-2,"bg":-0.91,"cb":1.4,"cr":-0.44,"cg":-1.15},
{"t":0.126,"ab":5.4,"ar":-0.22,"ag":-1,"bb":1.35,"br":-0.6,"bg":-1.1,"cb":1.4,"cr":-0.22,"cg":-1.5},
{"t":0.1265,"ab":5.65,"ar":0,"ag":-1.15,"bb":1.27,"br":0.1,"bg":-1.25,"cb":1.29,"cr":0,"cg":-1.9},
{"t":0.127,"ab":5.8,"ar":0.22,"ag":-1.27,"bb":1.15,"br":0.6,"bg":-1.38,"cb":1.11,"cr":0.22,"cg":-2.4},
{"t":0.1275,"ab":5.85,"ar":0.44,"ag":-1.35,"bb":1,"br":1.1,"bg":-1.42,"cb":0.92,"cr":0.44,"cg":-2.95},
{"t":0.128,"ab":5.45,"ar":0.64,"ag":-1.4,"bb":0.83,"br":1.55,"bg":-1.42,"cb":0.73,"cr":0.64,"cg":-3.5},
{"t":0.1285,"ab":4.8,"ar":0.83,"ag":-1.42,"bb":0.64,"br":2.05,"bg":-1.42,"cb":0.54,"cr":0.83,"cg":-4.05},
{"t":0.129,"ab":4,"ar":1,"ag":-1.4,"bb":0.44,"br":2.5,"bg":-1.42,"cb":0.35,"cr":1,"cg":-4.6},
{"t":0.1295,"ab":2.8,"ar":1.15,"ag":-1.35,"bb":0.22,"br":3,"bg":-1.42,"cb":0.16,"cr":1.15,"cg":-5.1},
{"t":0.13,"ab":1.4,"ar":1.27,"ag":-1.27,"bb":0,"br":3.45,"bg":-1.38,"cb":-0.03,"cr":1.27,"cg":-5.55},
{"t":0.1305,"ab":0.3,"ar":1.35,"ag":-1.15,"bb":-0.22,"br":3.9,"bg":-1.25,"cb":-0.22,"cr":1.35,"cg":-5.8},
{"t":0.131,"ab":-0.2,"ar":1.4,"ag":-1,"bb":-0.44,"br":4.35,"bg":-1.1,"cb":-0.41,"cr":1.4,"cg":-5},
{"t":0.1315,"ab":-0.55,"ar":1.42,"ag":-0.83,"bb":-0.64,"br":4.8,"bg":-0.91,"cb":-0.6,"cr":1.42,"cg":-3.7},
{"t":0.132,"ab":-0.85,"ar":1.4,"ag":-0.64,"bb":-0.83,"br":5.1,"bg":-0.7,"cb":-0.79,"cr":1.4,"cg":-2},
{"t":0.1325,"ab":-1.15,"ar":1.35,"ag":-0.44,"bb":-1,"br":5.4,"bg":-0.48,"cb":-0.98,"cr":1.35,"cg":-0.6},
{"t":0.133,"ab":-1.5,"ar":1.27,"ag":-0.22,"bb":-1.15,"br":5.65,"bg":-0.24,"cb":-1.17,"cr":1.27,"cg":0.1},
{"t":0.1335,"ab":-1.9,"ar":1.15,"ag":0,"bb":-1.27,"br":5.8,"bg":0,"cb":-1.36,"cr":1.15,"cg":0.6},
{"t":0.134,"ab":-2.4,"ar":1,"ag":0.22,"bb":-1.35,"br":5.85,"bg":0.24,"cb":-1.4,"cr":1,"cg":1.1},
{"t":0.1345,"ab":-2.95,"ar":0.83,"ag":0.44,"bb":-1.4,"br":5.45,"bg":0.48,"cb":-1.4,"cr":0.83,"cg":1.55},
{"t":0.135,"ab":-3.5,"ar":0.64,"ag":0.64,"bb":-1.42,"br":4.8,"bg":0.7,"cb":-1.4,"cr":0.64,"cg":2.05},
{"t":0.1355,"ab":-4.05,"ar":0.44,"ag":0.83,"bb":-1.4,"br":4,"bg":0.91,"cb":-1.4,"cr":0.44,"cg":2.5},
{"t":0.136,"ab":-4.6,"ar":0.22,"ag":1,"bb":-1.35,"br":2.8,"bg":1.1,"cb":-1.4,"cr":0.22,"cg":3},
{"t":0.1365,"ab":-5.1,"ar":0,"ag":1.15,"bb":-1.27,"br":1.4,"bg":1.25,"cb":-1.36,"cr":0,"cg":3.45},
{"t":0.137,"ab":-5.55,"ar":-0.22,"ag":1.27,"bb":-1.15,"br":0.3,"bg":1.38,"cb":-1.15,"cr":-0.22,"cg":3.9},
{"t":0.1375,"ab":-5.8,"ar":-0.44,"ag":1.35,"bb":-1,"br":-0.2,"bg":1.42,"cb":-0.95,"cr":-0.44,"cg":4.35},
{"t":0.138,"ab":-5,"ar":-0.64,"ag":1.4,"bb":-0.83,"br":-0.55,"bg":1.42,"cb":-0.75,"cr":-0.64,"cg":4.8},
{"t":0.1385,"ab":-3.7,"ar":-0.83,"ag":1.42,"bb":-0.64,"br":-0.85,"bg":1.42,"cb":-0.55,"cr":-0.83,"cg":5.1},
{"t":0.139,"ab":-2,"ar":-1,"ag":1.4,"bb":-0.44,"br":-1.15,"bg":1.42,"cb":-0.35,"cr":-1,"cg":5.4},
{"t":0.1395,"ab":-0.6,"ar":-1.15,"ag":1.35,"bb":-0.22,"br":-1.5,"bg":1.42,"cb":-0.15,"cr":-1.15,"cg":5.65},
{"t":0.14,"ab":0.1,"ar":-1.27,"ag":1.27,"bb":0,"br":-1.9,"bg":1.38,"cb":0.06,"cr":-1.27,"cg":5.8},
{"t":0.1405,"ab":0.6,"ar":-1.3,"ag":1.15,"bb":0.22,"br":-2.4,"bg":1.25,"cb":0.26,"cr":-1.35,"cg":5.85},
{"t":0.141,"ab":1.1,"ar":-1.3,"ag":1,"bb":0.44,"br":-2.95,"bg":1.1,"cb":0.46,"cr":-1.4,"cg":5.45},
{"t":0.1415,"ab":1.55,"ar":-1.3,"ag":0.83,"bb":0.64,"br":-3.5,"bg":0.91,"cb":0.66,"cr":-1.42,"cg":4.8},
{"t":0.142,"ab":2.05,"ar":-1.3,"ag":0.64,"bb":0.83,"br":-4.05,"bg":0.7,"cb":0.86,"cr":-1.4,"cg":4},
{"t":0.1425,"ab":2.5,"ar":-1.3,"ag":0.44,"bb":1,"br":-4.6,"bg":0.48,"cb":1.06,"cr":-1.35,"cg":2.8},
{"t":0.143,"ab":3,"ar":-1.27,"ag":0.22,"bb":1.15,"br":-5.1,"bg":0.24,"cb":1.27,"cr":-1.27,"cg":1.4},
{"t":0.1435,"ab":3.45,"ar":-1.15,"ag":0,"bb":1.27,"br":-5.55,"bg":0,"cb":1.4,"cr":-1.15,"cg":0.3},
{"t":0.144,"ab":3.9,"ar":-1,"ag":-0.22,"bb":1.35,"br":-5.8,"bg":-0.24,"cb":1.4,"cr":-1,"cg":-0.2},
{"t":0.1445,"ab":4.35,"ar":-0.83,"ag":-0.44,"bb":1.4,"br":-5,"bg":-0.48,"cb":1.4,"cr":-0.83,"cg":-0.55},
{"t":0.145,"ab":4.8,"ar":-0.64,"ag":-0.64,"bb":1.42,"br":-3.7,"bg":-0.7,"cb":1.4,"cr":-0.64,"cg":-0.85},
{"t":0.1455,"ab":5.1,"ar":-0.44,"ag":-0.83,"bb":1.4,"br":-2,"bg":-0.91,"cb":1.4,"cr":-0.44,"cg":-1.15},
{"t":0.146,"ab":5.4,"ar":-0.22,"ag":-1,"bb":1.35,"br":-0.6,"bg":-1.1,"cb":1.4,"cr":-0.22,"cg":-1.5},
{"t":0.1465,"ab":5.65,"ar":0,"ag":-1.15,"bb":1.27,"br":0.1,"bg":-1.25,"cb":1.29,"cr":0,"cg":-1.9},
{"t":0.147,"ab":5.8,"ar":0.22,"ag":-1.27,"bb":1.15,"br":0.6,"bg":-1.38,"cb":1.11,"cr":0.22,"cg":-2.4},
{"t":0.1475,"ab":5.85,"ar":0.44,"ag":-1.35,"bb":1,"br":1.1,"bg":-1.42,"cb":0.92,"cr":0.44,"cg":-2.95},
{"t":0.148,"ab":5.45,"ar":0.64,"ag":-1.4,"bb":0.83,"br":1.55,"bg":-1.42,"cb":0.73,"cr":0.64,"cg":-3.5},
{"t":0.1485,"ab":4.8,"ar":0.83,"ag":-1.42,"bb":0.64,"br":2.05,"bg":-1.42,"cb":0.54,"cr":0.83,"cg":-4.05},
{"t":0.149,"ab":4,"ar":1,"ag":-1.4,"bb":0.44,"br":2.5,"bg":-1.42,"cb":0.35,"cr":1,"cg":-4.6},
{"t":0.1495,"ab":2.8,"ar":1.15,"ag":-1.35,"bb":0.22,"br":3,"bg":-1.42,"cb":0.16,"cr":1.15,"cg":-5.1},
{"t":0.15,"ab":1.4,"ar":1.27,"ag":-1.27,"bb":0,"br":3.45,"bg":-1.38,"cb":-0.03,"cr":1.27,"cg":-5.55},
{"t":0.1505,"ab":0.3,"ar":1.35,"ag":-1.15,"bb":-0.22,"br":3.9,"bg":-1.25,"cb":-0.22,"cr":1.35,"cg":-5.8},
{"t":0.151,"ab":-0.2,"ar":1.4,"ag":-1,"bb":-0.44,"br":4.35,"bg":-1.1,"cb":-0.41,"cr":1.4,"cg":-5},
{"t":0.1515,"ab":-0.55,"ar":1.42,"ag":-0.83,"bb":-0.64,"br":4.8,"bg":-0.91,"cb":-0.6,"cr":1.42,"cg":-3.7},
{"t":0.152,"ab":-0.85,"ar":1.4,"ag":-0.64,"bb":-0.83,"br":5.1,"bg":-0.7,"cb":-0.79,"cr":1.4,"cg":-2},
{"t":0.1525,"ab":-1.15,"ar":1.35,"ag":-0.44,"bb":-1,"br":5.4,"bg":-0.48,"cb":-0.98,"cr":1.35,"cg":-0.6},
{"t":0.153,"ab":-1.5,"ar":1.27,"ag":-0.22,"bb":-1.15,"br":5.65,"bg":-0.24,"cb":-1.17,"cr":1.27,"cg":0.1},
{"t":0.1535,"ab":-1.9,"ar":1.15,"ag":0,"bb":-1.27,"br":5.8,"bg":0,"cb":-1.36,"cr":1.15,"cg":0.6},
{"t":0.154,"ab":-2.4,"ar":1,"ag":0.22,"bb":-1.35,"br":5.85,"bg":0.24,"cb":-1.4,"cr":1,"cg":1.1},
{"t":0.1545,"ab":-2.95,"ar":0.83,"ag":0.44,"bb":-1.4,"br":5.45,"bg":0.48,"cb":-1.4,"cr":0.83,"cg":1.55},
{"t":0.155,"ab":-3.5,"ar":0.64,"ag":0.64,"bb":-1.42,"br":4.8,"bg":0.7,"cb":-1.4,"cr":0.64,"cg":2.05},
{"t":0.1555,"ab":-4.05,"ar":0.44,"ag":0.83,"bb":-1.4,"br":4,"bg":0.91,"cb":-1.4,"cr":0.44,"cg":2.5},
{"t":0.156,"ab":-4.6,"ar":0.22,"ag":1,"bb":-1.35,"br":2.8,"bg":1.1,"cb":-1.4,"cr":0.22,"cg":3},
{"t":0.1565,"ab":-5.1,"ar":0,"ag":1.15,"bb":-1.27,"br":1.4,"bg":1.25,"cb":-1.36,"cr":0,"cg":3.45},
{"t":0.157,"ab":-5.55,"ar":-0.22,"ag":1.27,"bb":-1.15,"br":0.3,"bg":1.38,"cb":-1.15,"cr":-0.22,"cg":3.9},
{"t":0.1575,"ab":-5.8,"ar":-0.44,"ag":1.35,"bb":-1,"br":-0.2,"bg":1.42,"cb":-0.95,"cr":-0.44,"cg":4.35},
{"t":0.158,"ab":-5,"ar":-0.64,"ag":1.4,"bb":-0.83,"br":-0.55,"bg":1.42,"cb":-0.75,"cr":-0.64,"cg":4.8},
{"t":0.1585,"ab":-3.7,"ar":-0.83,"ag":1.42,"bb":-0.64,"br":-0.85,"bg":1.42,"cb":-0.55,"cr":-0.83,"cg":5.1},
{"t":0.159,"ab":-2,"ar":-1,"ag":1.4,"bb":-0.44,"br":-1.15,"bg":1.42,"cb":-0.35,"cr":-1,"cg":5.4},
{"t":0.1595,"ab":-0.6,"ar":-1.15,"ag":1.35,"bb":-0.22,"br":-1.5,"bg":1.42,"cb":-0.15,"cr":-1.15,"cg":5.65},
{"t":0.16,"ab":0.1,"ar":-1.27,"ag":1.27,"bb":0,"br":-1.9,"bg":1.38,"cb":0.06,"cr":-1.27,"cg":5.8},
{"t":0.1605,"ab":0.6,"ar":-1.3,"ag":1.15,"bb":0.22,"br":-2.4,"bg":1.25,"cb":0.26,"cr":-1.35,"cg":5.85},
{"t":0.161,"ab":1.1,"ar":-1.3,"ag":1,"bb":0.44,"br":-2.95,"bg":1.1,"cb":0.46,"cr":-1.4,"cg":5.45},
{"t":0.1615,"ab":1.55,"ar":-1.3,"ag":0.83,"bb":0.64,"br":-3.5,"bg":0.91,"cb":0.66,"cr":-1.42,"cg":4.8},
{"t":0.162,"ab":2.05,"ar":-1.3,"ag":0.64,"bb":0.83,"br":-4.05,"bg":0.7,"cb":0.86,"cr":-1.4,"cg":4},
{"t":0.1625,"ab":2.5,"ar":-1.3,"ag":0.44,"bb":1,"br":-4.6,"bg":0.48,"cb":1.06,"cr":-1.35,"cg":2.8},
{"t":0.163,"ab":3,"ar":-1.27,"ag":0.22,"bb":1.15,"br":-5.1,"bg":0.24,"cb":1.27,"cr":-1.27,"cg":1.4},
{"t":0.1635,"ab":3.45,"ar":-1.15,"ag":0,"bb":1.27,"br":-5.55,"bg":0,"cb":1.4,"cr":-1.15,"cg":0.3},
{"t":0.164,"ab":3.9,"ar":-1,"ag":-0.22,"bb":1.35,"br":-5.8,"bg":-0.24,"cb":1.4,"cr":-1,"cg":-0.2},
{"t":0.1645,"ab":4.35,"ar":-0.83,"ag":-0.44,"bb":1.4,"br":-5,"bg":-0.48,"cb":1.4,"cr":-0.83,"cg":-0.55},
{"t":0.165,"ab":4.8,"ar":-0.64,"ag":-0.64,"bb":1.42,"br":-3.7,"bg":-0.7,"cb":1.4,"cr":-0.64,"cg":-0.85},
{"t":0.1655,"ab":5.1,"ar":-0.44,"ag":-0.83,"bb":1.4,"br":-2,"bg":-0.91,"cb":1.4,"cr":-0.44,"cg":-1.15},
{"t":0.166,"ab":5.4,"ar":-0.22,"ag":-1,"bb":1.35,"br":-0.6,"bg":-1.1,"cb":1.4,"cr":-0.22,"cg":-1.5},
{"t":0.1665,"ab":5.65,"ar":0,"ag":-1.15,"bb":1.27,"br":0.1,"bg":-1.25,"cb":1.29,"cr":0,"cg":-1.9},
{"t":0.167,"ab":5.8,"ar":0.22,"ag":-1.27,"bb":1.15,"br":0.6,"bg":-1.38,"cb":1.11,"cr":0.22,"cg":-2.4},
{"t":0.1675,"ab":5.85,"ar":0.44,"ag":-1.35,"bb":1,"br":1.1,"bg":-1.42,"cb":0.92,"cr":0.44,"cg":-2.95},
{"t":0.168,"ab":5.45,"ar":0.64,"ag":-1.4,"bb":0.83,"br":1.55,"bg":-1.42,"cb":0.73,"cr":0.64,"cg":-3.5},
{"t":0.1685,"ab":4.8,"ar":0.83,"ag":-1.42,"bb":0.64,"br":2.05,"bg":-1.42,"cb":0.54,"cr":0.83,"cg":-4.05},
{"t":0.169,"ab":4,"ar":1,"ag":-1.4,"bb":0.44,"br":2.5,"bg":-1.42,"cb":0.35,"cr":1,"cg":-4.6},
{"t":0.1695,"ab":2.8,"ar":1.15,"ag":-1.35,"bb":0.22,"br":3,"bg":-1.42,"cb":0.16,"cr":1.15,"cg":-5.1},
{"t":0.17,"ab":1.4,"ar":1.27,"ag":-1.27,"bb":0,"br":3.45,"bg":-1.38,"cb":-0.03,"cr":1.27,"cg":-5.55},
{"t":0.1705,"ab":0.3,"ar":1.35,"ag":-1.15,"bb":-0.22,"br":3.9,"bg":-1.25,"cb":-0.22,"cr":1.35,"cg":-5.8},
{"t":0.171,"ab":-0.2,"ar":1.4,"ag":-1,"bb":-0.44,"br":4.35,"bg":-1.1,"cb":-0.41,"cr":1.4,"cg":-5},
{"t":0.1715,"ab":-0.55,"ar":1.42,"ag":-0.83,"bb":-0.64,"br":4.8,"bg":-0.91,"cb":-0.6,"cr":1.42,"cg":-3.7},
{"t":0.172,"ab":-0.85,"ar":1.4,"ag":-0.64,"bb":-0.83,"br":5.1,"bg":-0.7,"cb":-0.79,"cr":1.4,"cg":-2},
{"t":0.1725,"ab":-1.15,"ar":1.35,"ag":-0.44,"bb":-1,"br":5.4,"bg":-0.48,"cb":-0.98,"cr":1.35,"cg":-0.6},
{"t":0.173,"ab":-1.5,"ar":1.27,"ag":-0.22,"bb":-1.15,"br":5.65,"bg":-0.24,"cb":-1.17,"cr":1.27,"cg":0.1},
{"t":0.1735,"ab":-1.9,"ar":1.15,"ag":0,"bb":-1.27,"br":5.8,"bg":0,"cb":-1.36,"cr":1.15,"cg":0.6},
{"t":0.174,"ab":-2.4,"ar":1,"ag":0.22,"bb":-1.35,"br":5.85,"bg":0.24,"cb":-1.4,"cr":1,"cg":1.1},
{"t":0.1745,"ab":-2.95,"ar":0.83,"ag":0.44,"bb":-1.4,"br":5.45,"bg":0.48,"cb":-1.4,"cr":0.83,"cg":1.55},
{"t":0.175,"ab":-3.5,"ar":0.64,"ag":0.64,"bb":-1.42,"br":4.8,"bg":0.7,"cb":-1.4,"cr":0.64,"cg":2.05},
{"t":0.1755,"ab":-4.05,"ar":0.44,"ag":0.83,"bb":-1.4,"br":4,"bg":0.91,"cb":-1.4,"cr":0.44,"cg":2.5},
{"t":0.176,"ab":-4.6,"ar":0.22,"ag":1,"bb":-1.35,"br":2.8,"bg":1.1,"cb":-1.4,"cr":0.22,"cg":3},
{"t":0.1765,"ab":-5.1,"ar":0,"ag":1.15,"bb":-1.27,"br":1.4,"bg":1.25,"cb":-1.36,"cr":0,"cg":3.45},
{"t":0.177,"ab":-5.55,"ar":-0.22,"ag":1.27,"bb":-1.15,"br":0.3,"bg":1.38,"cb":-1.15,"cr":-0.22,"cg":3.9},
{"t":0.1775,"ab":-5.8,"ar":-0.44,"ag":1.35,"bb":-1,"br":-0.2,"bg":1.42,"cb":-0.95,"cr":-0.44,"cg":4.35},
{"t":0.178,"ab":-5,"ar":-0.64,"ag":1.4,"bb":-0.83,"br":-0.55,"bg":1.42,"cb":-0.75,"cr":-0.64,"cg":4.8},
{"t":0.1785,"ab":-3.7,"ar":-0.83,"ag":1.42,"bb":-0.64,"br":-0.85,"bg":1.42,"cb":-0.55,"cr":-0.83,"cg":5.1},
{"t":0.179,"ab":-2,"ar":-1,"ag":1.4,"bb":-0.44,"br":-1.15,"bg":1.42,"cb":-0.35,"cr":-1,"cg":5.4},
{"t":0.1795,"ab":-0.6,"ar":-1.15,"ag":1.35,"bb":-0.22,"br":-1.5,"bg":1.42,"cb":-0.15,"cr":-1.15,"cg":5.65},
{"t":0.18,"ab":0.1,"ar":-1.27,"ag":1.27,"bb":0,"br":-1.9,"bg":1.38,"cb":0.06,"cr":-1.27,"cg":5.8},
{"t":0.1805,"ab":0.6,"ar":-1.3,"ag":1.15,"bb":0.22,"br":-2.4,"bg":1.25,"cb":0.26,"cr":-1.35,"cg":5.85},
{"t":0.181,"ab":1.1,"ar":-1.3,"ag":1,"bb":0.44,"br":-2.95,"bg":1.1,"cb":0.46,"cr":-1.4,"cg":5.45},
{"t":0.1815,"ab":1.55,"ar":-1.3,"ag":0.83,"bb":0.64,"br":-3.5,"bg":0.91,"cb":0.66,"cr":-1.42,"cg":4.8},
{"t":0.182,"ab":2.05,"ar":-1.3,"ag":0.64,"bb":0.83,"br":-4.05,"bg":0.7,"cb":0.86,"cr":-1.4,"cg":4},
{"t":0.1825,"ab":2.5,"ar":-1.3,"ag":0.44,"bb":1,"br":-4.6,"bg":0.48,"cb":1.06,"cr":-1.35,"cg":2.8},
{"t":0.183,"ab":3,"ar":-1.27,"ag":0.22,"bb":1.15,"br":-5.1,"bg":0.24,"cb":1.27,"cr":-1.27,"cg":1.4},
{"t":0.1835,"ab":3.45,"ar":-1.15,"ag":0,"bb":1.27,"br":-5.55,"bg":0,"cb":1.4,"cr":-1.15,"cg":0.3},
{"t":0.184,"ab":3.9,"ar":-1,"ag":-0.22,"bb":1.35,"br":-5.8,"bg":-0.24,"cb":1.4,"cr":-1,"cg":-0.2},
{"t":0.1845,"ab":4.35,"ar":-0.83,"ag":-0.44,"bb":1.4,"br":-5,"bg":-0.48,"cb":1.4,"cr":-0.83,"cg":-0.55},
{"t":0.185,"ab":4.8,"ar":-0.64,"ag":-0.64,"bb":1.42,"br":-3.7,"bg":-0.7,"cb":1.4,"cr":-0.64,"cg":-0.85},
{"t":0.1855,"ab":5.1,"ar":-0.44,"ag":-0.83,"bb":1.4,"br":-2,"bg":-0.91,"cb":1.4,"cr":-0.44,"cg":-1.15},
{"t":0.186,"ab":5.4,"ar":-0.22,"ag":-1,"bb":1.35,"br":-0.6,"bg":-1.1,"cb":1.4,"cr":-0.22,"cg":-1.5},
{"t":0.1865,"ab":5.65,"ar":0,"ag":-1.15,"bb":1.27,"br":0.1,"bg":-1.25,"cb":1.29,"cr":0,"cg":-1.9},
{"t":0.187,"ab":5.8,"ar":0.22,"ag":-1.27,"bb":1.15,"br":0.6,"bg":-1.38,"cb":1.11,"cr":0.22,"cg":-2.4},
{"t":0.1875,"ab":5.85,"ar":0.44,"ag":-1.35,"bb":1,"br":1.1,"bg":-1.42,"cb":0.92,"cr":0.44,"cg":-2.95},
{"t":0.188,"ab":5.45,"ar":0.64,"ag":-1.4,"bb":0.83,"br":1.55,"bg":-1.42,"cb":0.73,"cr":0.64,"cg":-3.5},
{"t":0.1885,"ab":4.8,"ar":0.83,"ag":-1.42,"bb":0.64,"br":2.05,"bg":-1.42,"cb":0.54,"cr":0.83,"cg":-4.05},
{"t":0.189,"ab":4,"ar":1,"ag":-1.4,"bb":0.44,"br":2.5,"bg":-1.42,"cb":0.35,"cr":1,"cg":-4.6},
{"t":0.1895,"ab":2.8,"ar":1.15,"ag":-1.35,"bb":0.22,"br":3,"bg":-1.42,"cb":0.16,"cr":1.15,"cg":-5.1},
{"t":0.19,"ab":1.4,"ar":1.27,"ag":-1.27,"bb":0,"br":3.45,"bg":-1.38,"cb":-0.03,"cr":1.27,"cg":-5.55},
{"t":0.1905,"ab":0.3,"ar":1.35,"ag":-1.15,"bb":-0.22,"br":3.9,"bg":-1.25,"cb":-0.22,"cr":1.35,"cg":-5.8},
{"t":0.191,"ab":-0.2,"ar":1.4,"ag":-1,"bb":-0.44,"br":4.35,"bg":-1.1,"cb":-0.41,"cr":1.4,"cg":-5},
{"t":0.1915,"ab":-0.55,"ar":1.42,"ag":-0.83,"bb":-0.64,"br":4.8,"bg":-0.91,"cb":-0.6,"cr":1.42,"cg":-3.7},
{"t":0.192,"ab":-0.85,"ar":1.4,"ag":-0.64,"bb":-0.83,"br":5.1,"bg":-0.7,"cb":-0.79,"cr":1.4,"cg":-2},
{"t":0.1925,"ab":-1.15,"ar":1.35,"ag":-0.44,"bb":-1,"br":5.4,"bg":-0.48,"cb":-0.98,"cr":1.35,"cg":-0.6},
{"t":0.193,"ab":-1.5,"ar":1.27,"ag":-0.22,"bb":-1.15,"br":5.65,"bg":-0.24,"cb":-1.17,"cr":1.27,"cg":0.1},
{"t":0.1935,"ab":-1.9,"ar":1.15,"ag":0,"bb":-1.27,"br":5.8,"bg":0,"cb":-1.36,"cr":1.15,"cg":0.6},
{"t":0.194,"ab":-2.4,"ar":1,"ag":0.22,"bb":-1.35,"br":5.85,"bg":0.24,"cb":-1.4,"cr":1,"cg":1.1},
{"t":0.1945,"ab":-2.95,"ar":0.83,"ag":0.44,"bb":-1.4,"br":5.45,"bg":0.48,"cb":-1.4,"cr":0.83,"cg":1.55},
{"t":0.195,"ab":-3.5,"ar":0.64,"ag":0.64,"bb":-1.42,"br":4.8,"bg":0.7,"cb":-1.4,"cr":0.64,"cg":2.05},
{"t":0.1955,"ab":-4.05,"ar":0.44,"ag":0.83,"bb":-1.4,"br":4,"bg":0.91,"cb":-1.4,"cr":0.44,"cg":2.5},
{"t":0.196,"ab":-4.6,"ar":0.22,"ag":1,"bb":-1.35,"br":2.8,"bg":1.1,"cb":-1.4,"cr":0.22,"cg":3},
{"t":0.1965,"ab":-5.1,"ar":0,"ag":1.15,"bb":-1.27,"br":1.4,"bg":1.25,"cb":-1.36,"cr":0,"cg":3.45},
{"t":0.197,"ab":-5.55,"ar":-0.22,"ag":1.27,"bb":-1.15,"br":0.3,"bg":1.38,"cb":-1.15,"cr":-0.22,"cg":3.9},
{"t":0.1975,"ab":-5.8,"ar":-0.44,"ag":1.35,"bb":-1,"br":-0.2,"bg":1.42,"cb":-0.95,"cr":-0.44,"cg":4.35},
{"t":0.198,"ab":-5,"ar":-0.64,"ag":1.4,"bb":-0.83,"br":-0.55,"bg":1.42,"cb":-0.75,"cr":-0.64,"cg":4.8},
{"t":0.1985,"ab":-3.7,"ar":-0.83,"ag":1.42,"bb":-0.64,"br":-0.85,"bg":1.42,"cb":-0.55,"cr":-0.83,"cg":5.1},
{"t":0.199,"ab":-2,"ar":-1,"ag":1.4,"bb":-0.44,"br":-1.15,"bg":1.42,"cb":-0.35,"cr":-1,"cg":5.4},
{"t":0.1995,"ab":-0.6,"ar":-1.15,"ag":1.35,"bb":-0.22,"br":-1.5,"bg":1.42,"cb":-0.15,"cr":-1.15,"cg":5.65},
{"t":0.2,"ab":0.1,"ar":-1.27,"ag":1.27,"bb":0,"br":-1.9,"bg":1.38,"cb":0.06,"cr":-1.27,"cg":5.8}
]},
"vconcat": [
{
  "width": 613, "height": 335,
  "title": {"text": "(a)", "orient": "bottom", "font": "Liberation Serif", "fontSize": 20, "fontWeight": "bold", "color": "#000000", "offset": 16},
  "transform": [{"fold": ["ab", "ar", "ag"], "as": ["series", "value"]}],
  "mark": {"type": "line", "strokeWidth": 2},
  "encoding": {
    "x": {"field": "t", "type": "quantitative", "scale": {"domain": [0, 0.2], "nice": false}, "axis": {"values": [0, 0.02, 0.04, 0.06, 0.08, 0.1, 0.12, 0.14, 0.16, 0.18, 0.2], "labelExpr": "'' + datum.value", "title": "Time(sec)"}},
    "y": {"field": "value", "type": "quantitative", "scale": {"domain": [-10, 10], "nice": false}, "axis": {"values": [-10, -5, 0, 5, 10], "labelExpr": "'' + datum.value", "title": "Current(A)"}},
    "color": {"field": "series", "type": "nominal", "scale": {"domain": ["ab", "ar", "ag"], "range": ["#0000ff", "#ff0000", "#008000"]}, "legend": null}
  }
},
{
  "width": 613, "height": 335,
  "title": {"text": "(b)", "orient": "bottom", "font": "Liberation Serif", "fontSize": 20, "fontWeight": "bold", "color": "#000000", "offset": 16},
  "transform": [{"fold": ["bb", "br", "bg"], "as": ["series", "value"]}],
  "mark": {"type": "line", "strokeWidth": 2},
  "encoding": {
    "x": {"field": "t", "type": "quantitative", "scale": {"domain": [0, 0.2], "nice": false}, "axis": {"values": [0, 0.02, 0.04, 0.06, 0.08, 0.1, 0.12, 0.14, 0.16, 0.18, 0.2], "labelExpr": "'' + datum.value", "title": "Time(sec)"}},
    "y": {"field": "value", "type": "quantitative", "scale": {"domain": [-10, 10], "nice": false}, "axis": {"values": [-10, -5, 0, 5, 10], "labelExpr": "'' + datum.value", "title": "Current(A)"}},
    "color": {"field": "series", "type": "nominal", "scale": {"domain": ["bb", "br", "bg"], "range": ["#0000ff", "#ff0000", "#008000"]}, "legend": null}
  }
},
{
  "width": 613, "height": 335,
  "title": {"text": "(c)", "orient": "bottom", "font": "Liberation Serif", "fontSize": 20, "fontWeight": "bold", "color": "#000000", "offset": 4},
  "transform": [{"fold": ["cb", "cr", "cg"], "as": ["series", "value"]}],
  "mark": {"type": "line", "strokeWidth": 2},
  "encoding": {
    "x": {"field": "t", "type": "quantitative", "scale": {"domain": [0, 0.2], "nice": false}, "axis": {"values": [0, 0.02, 0.04, 0.06, 0.08, 0.1, 0.12, 0.14, 0.16, 0.18, 0.2], "labelExpr": "'' + datum.value", "title": "Time(sec)"}},
    "y": {"field": "value", "type": "quantitative", "scale": {"domain": [-10, 10], "nice": false}, "axis": {"values": [-10, -5, 0, 5, 10], "labelExpr": "'' + datum.value", "title": "Current(A)"}},
    "color": {"field": "series", "type": "nominal", "scale": {"domain": ["cb", "cr", "cg"], "range": ["#0000ff", "#ff0000", "#008000"]}, "legend": null}
  }
}
]
}
